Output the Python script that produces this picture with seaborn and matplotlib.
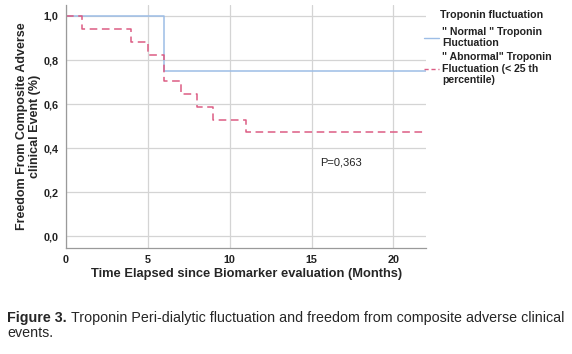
import seaborn as sns
import matplotlib.pyplot as plt
import pandas as pd
from matplotlib.lines import Line2D

# Kaplan-Meier step values
normal_time = [0, 6, 22]
normal_surv = [1.0, 0.75, 0.75]
abnormal_time = [0, 1, 4, 5, 6, 7, 8, 9, 11, 22]
abnormal_surv = [1.0, 0.941, 0.882, 0.824, 0.706, 0.647, 0.588, 0.529, 0.471, 0.471]

groups = ['normal', 'abnormal']
legend_title = 'Troponin fluctuation'
legend_labels = ['" Normal " Troponin\nFluctuation',
                 '" Abnormal" Troponin\nFluctuation (< 25 th\npercentile)']
x_ticks = [0, 5, 10, 15, 20]
y_ticks = [0.0, 0.2, 0.4, 0.6, 0.8, 1.0]
p_text = 'P=0,363'
caption_bold = 'Figure 3.'
caption_rest = 'Troponin Peri-dialytic fluctuation and freedom from composite adverse clinical'
caption_line2 = 'events.'

blue = '#9dbde6'
pink = '#dc5c84'
dark = '#222222'

df = pd.concat([
    pd.DataFrame({'time': normal_time, 'surv': normal_surv, 'group': groups[0]}),
    pd.DataFrame({'time': abnormal_time, 'surv': abnormal_surv, 'group': groups[1]}),
])

sns.set_style('white')
plt.rcParams['font.family'] = ['Liberation Sans', 'DejaVu Sans']

fig = plt.figure(figsize=(5.72, 3.54), dpi=100)
ax = fig.add_axes([0.1154, 0.3003, 0.6296, 0.6857])

sns.lineplot(data=df, x='time', y='surv', hue='group', style='group',
             palette={'normal': blue, 'abnormal': pink},
             dashes={'normal': '', 'abnormal': (5, 3)},
             drawstyle='steps-post', estimator=None, linewidth=1.1,
             legend=False, ax=ax)

ax.set_xlim(0, 22)
ax.set_ylim(-0.052, 1.05)
ax.set_xticks(x_ticks)
ax.set_yticks(y_ticks)
ax.set_yticklabels([f'{v:.1f}'.replace('.', ',') for v in y_ticks])
ax.grid(True, color='#d4d4d4', linewidth=0.9)
ax.set_axisbelow(True)
for s in ['top', 'right']:
    ax.spines[s].set_visible(False)
for s in ['left', 'bottom']:
    ax.spines[s].set_color('#9a9a9a')
    ax.spines[s].set_linewidth(0.9)
ax.tick_params(axis='both', length=0, labelsize=7.8, labelcolor=dark)
ax.tick_params(axis='x', pad=5)
ax.tick_params(axis='y', pad=5.5)
for lab in ax.get_xticklabels() + ax.get_yticklabels():
    lab.set_fontweight('bold')

ax.set_xlabel('Time Elapsed since Biomarker evaluation (Months)',
              fontsize=9.3, fontweight='bold')
ax.xaxis.set_label_coords(0.5, -0.083)
ax.set_ylabel('Freedom From Composite Adverse\nclinical Event (%)',
              fontsize=9, fontweight='bold', linespacing=1.05)
ax.yaxis.set_label_coords(-0.07, 0.5)

ax.text(16.8, 0.336, p_text, fontsize=8, color=dark, ha='center', va='center')

handles = [Line2D([], [], color=blue, lw=1.0),
           Line2D([], [], color=pink, lw=1.0, dashes=(3, 2))]
leg = ax.legend(handles, legend_labels,
                loc='upper left', bbox_to_anchor=(424 / 572, 1 - 27 / 354),
                bbox_transform=fig.transFigure, frameon=False,
                prop={'size': 7.6, 'weight': 'bold'}, handlelength=1.4,
                handletextpad=0.35, labelspacing=0.4, borderaxespad=0.0,
                borderpad=0.0)
for t in leg.get_texts():
    t.set_linespacing(1.15)
    t.set_color(dark)
fig.text(440 / 572, 1 - 15 / 354, legend_title, fontsize=7.7, fontweight='bold',
         color=dark, va='center')

# caption: narrow font is not installed, so fit the size to the original width
cap_y1 = 1 - 322 / 354
cap_y2 = 1 - 337 / 354
size = 11.5
t1 = fig.text(7 / 572, cap_y1, caption_bold, fontsize=size, fontweight='bold', va='baseline')
t2 = fig.text(0, cap_y1, caption_rest, fontsize=size, va='baseline')
t3 = fig.text(7 / 572, cap_y2, caption_line2, fontsize=size, va='baseline')
fig.canvas.draw()
r = fig.canvas.get_renderer()
w = t1.get_window_extent(r).width + 4 + t2.get_window_extent(r).width
size = size * 555 / w
for t in (t1, t2, t3):
    t.set_fontsize(size)
fig.canvas.draw()
bb = t1.get_window_extent(r)
t2.set_x((bb.x1 + 4) / 572)

fig.savefig('out.png', dpi=100)
